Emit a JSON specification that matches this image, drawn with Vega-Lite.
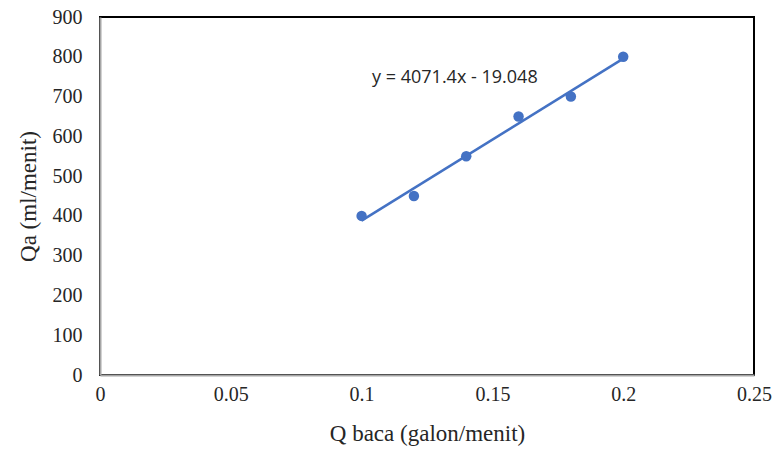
{
  "$schema": "https://vega.github.io/schema/vega-lite/v6.json",
  "width": 654,
  "height": 358,
  "autosize": "none",
  "padding": {"left": 100, "top": 17, "right": 18, "bottom": 80},
  "background": "white",
  "config": {
    "view": {"stroke": "#000000", "strokeWidth": 2},
    "axis": {"grid": false, "ticks": false, "domainColor": "#a6a6a6", "domainWidth": 2, "labelOverlap": false, "labelFlush": false,
      "labelFont": "Liberation Serif", "labelFontSize": 20, "labelColor": "#262626",
      "titleFont": "Liberation Serif", "titleFontSize": 23, "titleFontWeight": "normal", "titleColor": "#262626"}
  },
  "datasets": {
    "pts": [
      {"q": 0.10, "qa": 400},
      {"q": 0.12, "qa": 450},
      {"q": 0.14, "qa": 550},
      {"q": 0.16, "qa": 650},
      {"q": 0.18, "qa": 700},
      {"q": 0.20, "qa": 800}
    ],
    "trend": [
      {"q": 0.10, "qa": 388.09},
      {"q": 0.20, "qa": 795.23}
    ],
    "eq": [
      {"q": 0.104, "qa": 746, "label": "y = 4071.4x - 19.048"}
    ]
  },
  "encoding": {
    "x": {"field": "q", "type": "quantitative", "scale": {"domain": [0, 0.25], "nice": false},
      "axis": {"values": [0, 0.05, 0.1, 0.15, 0.2, 0.25], "labelExpr": "datum.value == 0 ? '0' : format(datum.value, '.2~f')",
        "labelPadding": 9, "labelFontSize": 20, "title": "Q baca (galon/menit)", "titleFontSize": 23, "titlePadding": 18}},
    "y": {"field": "qa", "type": "quantitative", "scale": {"domain": [0, 900], "nice": false},
      "axis": {"values": [0, 100, 200, 300, 400, 500, 600, 700, 800, 900], "labelExpr": "format(datum.value, 'd')",
        "labelPadding": 18, "labelFontSize": 20, "title": "Qa (ml/menit)", "titleFontSize": 23, "titlePadding": 12}}
  },
  "layer": [
    {
      "data": {"name": "trend"},
      "mark": {"type": "line", "color": "#4472C4", "strokeWidth": 2.5}
    },
    {
      "data": {"name": "pts"},
      "mark": {"type": "circle", "color": "#4472C4", "opacity": 1, "size": 110}
    },
    {
      "data": {"name": "eq"},
      "mark": {"type": "text", "align": "left", "baseline": "middle", "font": "Open Sans", "fontSize": 18, "color": "#262626"},
      "encoding": {
        "text": {"field": "label"}
      }
    }
  ]
}
